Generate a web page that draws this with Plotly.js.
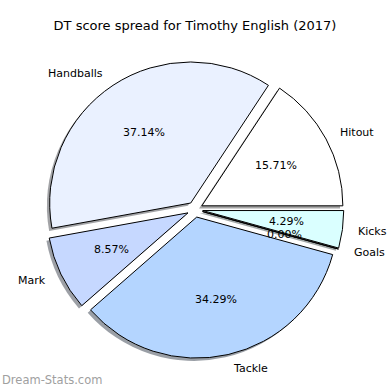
<!DOCTYPE html>
<html>
<head>
<meta charset="utf-8">
<script src="https://cdn.plot.ly/plotly-3.0.1.min.js"></script>
<style>html,body{margin:0;padding:0;background:#fff;}#chart{width:390px;height:390px;}</style>
</head>
<body>
<div id="chart"></div>
<script>
// Data
var categories = ["Hitout", "Handballs", "Mark", "Tackle", "Goals", "Kicks"];
var scores = [11, 26, 6, 24, 0, 3];
var sliceColors = ["#ffffff", "#eaf1ff", "#c6d8ff", "#b4d5ff", "#c8ffff", "#daffff"];
var titleText = "DT score spread for Timothy English (2017)";
var watermark = "Dream-Stats.com";

var W = 390, H = 390;
var pull = 0.055;
var dom = {x: [0.11846, 0.88154], y: [0.08128, 0.84436]};
var shOff = 2.8; // shadow offset in px

var total = scores.reduce(function(a,b){return a+b;}, 0);
// Plotly places the end of the first slice at the rotation angle when counterclockwise;
// make the first slice start at 3 o'clock like matplotlib's startangle=0
var rot = 90 - 360 * scores[0] / total;

function shadowColor(hex) {
  var r = parseInt(hex.substr(1,2),16), g = parseInt(hex.substr(3,2),16), b = parseInt(hex.substr(5,2),16);
  return "rgba(" + Math.round(r*0.3) + "," + Math.round(g*0.3) + "," + Math.round(b*0.3) + ",0.5)";
}

var shadow = {
  type: "pie", values: scores, labels: categories, sort: false,
  direction: "counterclockwise", rotation: rot, pull: pull,
  domain: {x: [dom.x[0] - shOff/W, dom.x[1] - shOff/W], y: [dom.y[0] - shOff/H, dom.y[1] - shOff/H]},
  marker: {colors: sliceColors.map(shadowColor), line: {width: 0}},
  textinfo: "none", hoverinfo: "skip", showlegend: false
};
var main = {
  type: "pie", values: scores, labels: categories, sort: false,
  direction: "counterclockwise", rotation: rot, pull: pull,
  domain: dom,
  marker: {colors: sliceColors, line: {color: "#000000", width: 1}},
  textinfo: "none", hoverinfo: "label+percent", showlegend: false
};

// Label positions derived from the data (matplotlib-like: labels at 1.1r, percents at 0.6r)
var cx = W * (dom.x[0] + dom.x[1]) / 2;
var cy = H * (1 - (dom.y[0] + dom.y[1]) / 2);
var R = W * (dom.x[1] - dom.x[0]) / 2 / (1 + pull);
var annotations = [];
var acc = 0;
for (var i = 0; i < scores.length; i++) {
  var a0 = acc / total * 2 * Math.PI;
  acc += scores[i];
  var a1 = acc / total * 2 * Math.PI;
  var am = (a0 + a1) / 2;
  var dx = Math.cos(am), dy = Math.sin(am);
  var lx = cx + (pull + 1.1) * R * dx, ly = cy - (pull + 1.1) * R * dy;
  var px = cx + (pull + 0.6) * R * dx, py = cy - (pull + 0.6) * R * dy;
  annotations.push({
    text: categories[i], x: lx / W, y: 1 - ly / H, xref: "paper", yref: "paper",
    xanchor: dx > 0 ? "left" : "right", yanchor: "middle", showarrow: false,
    font: {family: "DejaVu Sans", size: 11, color: "#000"}
  });
  annotations.push({
    text: (scores[i] / total * 100).toFixed(2) + "%", x: px / W, y: 1 - py / H, xref: "paper", yref: "paper",
    xanchor: "center", yanchor: "middle", showarrow: false,
    font: {family: "DejaVu Sans", size: 11, color: "#000"}
  });
}
annotations.push({
  text: watermark, x: 0, y: 1 - 380 / H, xref: "paper", yref: "paper",
  xanchor: "left", yanchor: "middle", showarrow: false,
  font: {family: "DejaVu Sans", size: 11.5, color: "#a0a0a0"}
});

var layout = {
  width: W, height: H,
  margin: {l: 0, r: 0, t: 0, b: 0},
  paper_bgcolor: "#ffffff",
  title: {text: titleText, x: 0.5, xanchor: "center", y: 1 - 25 / H, yanchor: "middle",
          font: {family: "DejaVu Sans", size: 13, color: "#000"}},
  annotations: annotations,
  showlegend: false
};
Plotly.newPlot("chart", [shadow, main], layout, {staticPlot: true});
</script>
</body>
</html>
